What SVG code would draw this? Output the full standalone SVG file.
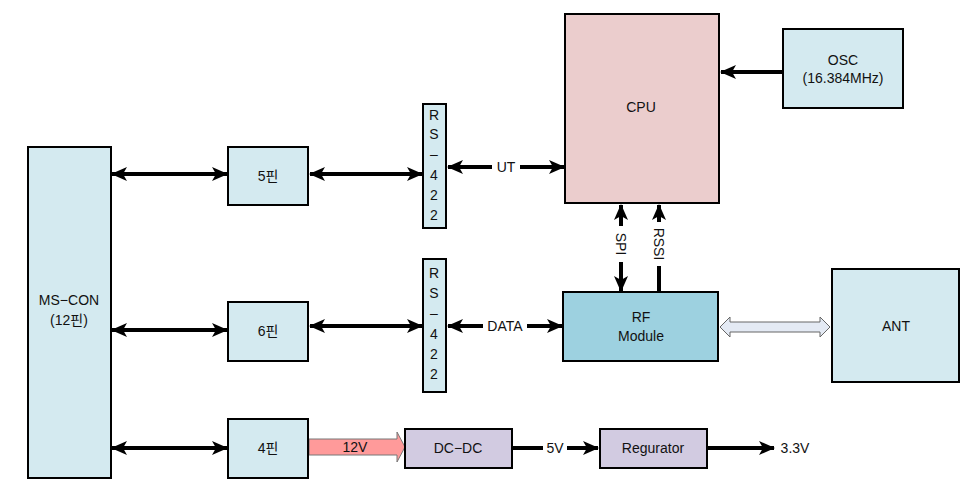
<svg xmlns="http://www.w3.org/2000/svg" width="975" height="487" viewBox="0 0 975 487">
<style>
text{font-family:"Liberation Sans","Noto Sans CJK KR",Arial,sans-serif;font-size:14px;fill:#111;text-anchor:middle;dominant-baseline:central}
.box{stroke:#000;stroke-width:2}
.lb{fill:#D4EAF0}
.cpu{fill:#EBCDCD}
.rf{fill:#9DD1E0}
.pw{fill:#D2CBE1}
.ln{stroke:#000;stroke-width:4;fill:none}
.bg{fill:#fff}
</style>
<defs>
<marker id="ah" markerUnits="userSpaceOnUse" markerWidth="16" markerHeight="16" refX="15" refY="8" orient="auto-start-reverse" viewBox="0 0 16 16">
<path d="M0,1 L16,8 L0,15 L4,8 Z" fill="#000"/>
</marker>
</defs>
<rect width="975" height="487" fill="#fff"/>

<g id="connectors">
<line class="ln" x1="112" y1="174" x2="227" y2="174" marker-start="url(#ah)" marker-end="url(#ah)"/>
<line class="ln" x1="112" y1="330" x2="227" y2="330" marker-start="url(#ah)" marker-end="url(#ah)"/>
<line class="ln" x1="112" y1="448" x2="227" y2="448" marker-start="url(#ah)" marker-end="url(#ah)"/>
<line class="ln" x1="310" y1="174" x2="422" y2="174" marker-start="url(#ah)" marker-end="url(#ah)"/>
<line class="ln" x1="310" y1="326" x2="422" y2="326" marker-start="url(#ah)" marker-end="url(#ah)"/>
<line class="ln" x1="448" y1="167" x2="564" y2="167" marker-start="url(#ah)" marker-end="url(#ah)"/>
<rect class="bg" x="492" y="159" width="28" height="16"/>
<text x="506" y="167">UT</text>
<line class="ln" x1="448" y1="326" x2="562" y2="326" marker-start="url(#ah)" marker-end="url(#ah)"/>
<rect class="bg" x="483" y="318" width="44" height="16"/>
<text x="505" y="326">DATA</text>
<line class="ln" x1="621" y1="205" x2="621" y2="291" marker-start="url(#ah)" marker-end="url(#ah)"/>
<rect class="bg" x="613" y="226" width="16" height="36"/>
<text x="621" y="244" transform="rotate(90 621 244)">SPI</text>
<line class="ln" x1="659" y1="292" x2="659" y2="205" marker-end="url(#ah)"/>
<rect class="bg" x="651" y="222" width="16" height="44"/>
<text x="659" y="244" transform="rotate(90 659 244)">RSSI</text>
<line class="ln" x1="783" y1="72" x2="721" y2="72" marker-end="url(#ah)"/>
<path d="M720,327 L730,317 L730,322 L820,322 L820,317 L830,327 L820,337 L820,332 L730,332 L730,337 Z" fill="#E4EAF4" stroke="#666" stroke-width="1"/>
<path d="M309,439 L397,439 L397,432 L405,447 L397,462 L397,455 L309,455 Z" fill="#FF9A9A" stroke="#777" stroke-width="1"/>
<text x="355" y="447">12V</text>
<line class="ln" x1="513" y1="448" x2="598" y2="448" marker-end="url(#ah)"/>
<rect class="bg" x="543" y="440" width="24" height="16"/>
<text x="555" y="448">5V</text>
<line class="ln" x1="708" y1="448" x2="774" y2="448" marker-end="url(#ah)"/>
<text x="795" y="448">3.3V</text>
</g>

<g id="mscon"><rect class="box lb" x="28" y="147" width="83" height="331"/><text x="69" y="300">MS−CON</text><text x="69" y="320">(12핀)</text></g>
<g id="pin5"><rect class="box lb" x="228" y="147" width="80" height="58"/><text x="268" y="176">5핀</text></g>
<g id="pin6"><rect class="box lb" x="228" y="302" width="80" height="59"/><text x="268" y="331">6핀</text></g>
<g id="pin4"><rect class="box lb" x="228" y="419" width="80" height="59"/><text x="268" y="448">4핀</text></g>
<g id="rs422a"><rect class="box lb" x="423" y="104" width="23" height="124"/>
<text x="434" y="115">R</text><text x="434" y="134">S</text><text x="434" y="154">–</text><text x="434" y="175">4</text><text x="434" y="195">2</text><text x="434" y="215">2</text></g>
<g id="rs422b"><rect class="box lb" x="423" y="259" width="23" height="133"/>
<text x="434" y="273">R</text><text x="434" y="293">S</text><text x="434" y="313">–</text><text x="434" y="334">4</text><text x="434" y="354">2</text><text x="434" y="374">2</text></g>
<g id="cpu"><rect class="box cpu" x="565" y="14" width="154" height="189"/><text x="641" y="107">CPU</text></g>
<g id="osc"><rect class="box lb" x="783" y="29" width="120" height="79"/><text x="843" y="60">OSC</text><text x="843" y="78">(16.384MHz)</text></g>
<g id="rf"><rect class="box rf" x="563" y="292" width="155" height="69"/><text x="641" y="317">RF</text><text x="641" y="336">Module</text></g>
<g id="ant"><rect class="box lb" x="832" y="269" width="127" height="113"/><text x="896" y="326">ANT</text></g>
<g id="dcdc"><rect class="box pw" x="405" y="429" width="107" height="39"/><text x="458" y="448">DC−DC</text></g>
<g id="reg"><rect class="box pw" x="600" y="429" width="107" height="39"/><text x="653" y="448">Regurator</text></g>
</svg>
